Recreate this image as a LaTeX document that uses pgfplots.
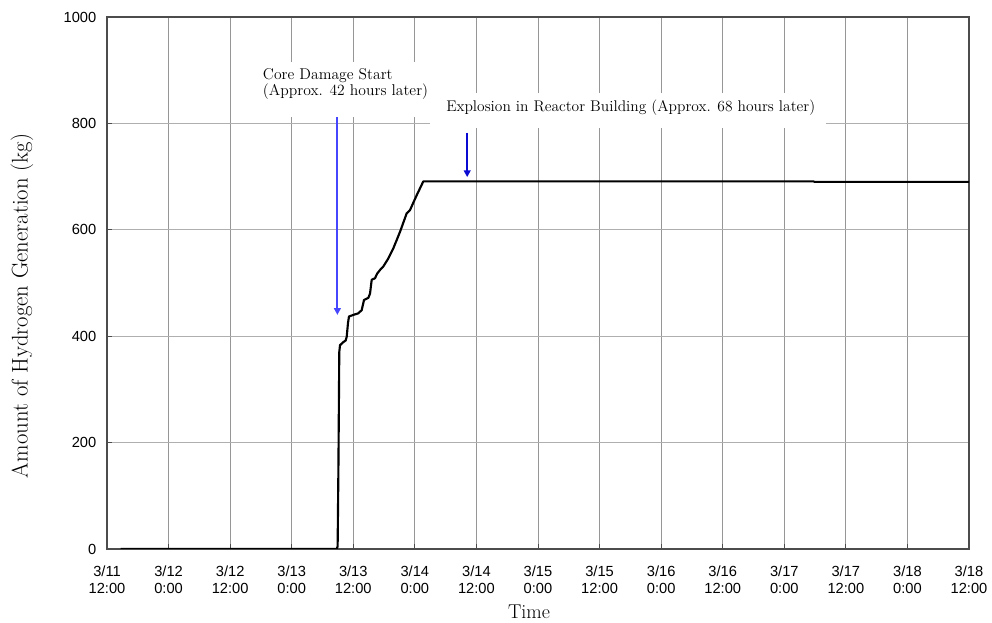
\documentclass[border=0pt]{standalone}
\usepackage{pgfplots}
\pgfplotsset{compat=1.18}
\usepackage{fontspec}
\setsansfont{Liberation Sans}
\usetikzlibrary{arrows.meta}
\definecolor{gridx}{RGB}{150,150,150}
\definecolor{gridy}{RGB}{175,175,175}
\definecolor{arrA}{RGB}{70,70,255}
\definecolor{arrB}{RGB}{10,10,210}
\begin{document}
\begin{tikzpicture}
\path[use as bounding box] (-80.25pt,-55.5pt) rectangle (663.75pt,411.75pt);
\begin{axis}[
  scale only axis, width=646.5pt, height=399pt,
  at={(0,0)}, anchor=south west,
  xmin=0, xmax=168, ymin=0, ymax=1000,
  xtick={0,12,...,168}, ytick={0,200,...,1000},
  xticklabels={{3/11\\12:00},{3/12\\0:00},{3/12\\12:00},{3/13\\0:00},{3/13\\12:00},{3/14\\0:00},{3/14\\12:00},{3/15\\0:00},{3/15\\12:00},{3/16\\0:00},{3/16\\12:00},{3/17\\0:00},{3/17\\12:00},{3/18\\0:00},{3/18\\12:00}},
  xticklabel style={font=\sffamily\fontsize{11}{12.5}\selectfont, align=center, yshift=-9pt},
  yticklabel style={font=\sffamily\fontsize{11}{13}\selectfont, xshift=-4.5pt},
  /pgf/number format/assume math mode=true,
  /pgf/number format/1000 sep={},
  xmajorgrids, ymajorgrids,
  x grid style={gridx, line width=0.75pt},
  y grid style={gridy, line width=0.75pt},
  axis line style={black!70, line width=0.9pt},
  tick align=inside, major tick length=4pt,
  tick style={black!70, line width=0.75pt},
  xtick pos=bottom, ytick pos=left,
  xlabel={Time},
  ylabel={Amount of Hydrogen Generation (kg)},
  xlabel style={font=\fontsize{15}{16}\selectfont, at={(axis description cs:0.4896,-0.131)}, anchor=base, inner sep=0pt},
  ylabel style={font=\fontsize{17}{18}\selectfont, at={(axis description cs:-0.0986,0.4568)}, anchor=center, rotate=0, inner sep=0pt},
]
\addplot[black, line width=1.6pt, line join=round] coordinates {
(2.67,0) (44.77,0) (44.95,5) (45.1,150) (45.27,370) (45.41,383) (45.94,388)
(46.52,392) (46.72,399) (46.97,425) (47.16,437) (48.0,440) (48.98,443)
(49.64,449) (50.09,468) (50.93,472) (51.26,480) (51.59,506) (52.23,509)
(52.68,518) (53.34,526) (53.85,531) (54.82,546) (55.8,565) (57.1,596)
(58.41,631) (59.05,637) (60.36,665) (61.65,691) (137.8,691) (137.8,690) (168,690)
};
\fill[white] (axis cs:27.48,812) rectangle (axis cs:62.95,915.4);
\fill[white] (axis cs:62.95,791.4) rectangle (axis cs:140.13,857);
\node[anchor=base west, inner sep=0pt, font=\fontsize{11.7}{13}\selectfont] at (axis cs:30.35,882.9) {Core Damage Start};
\node[anchor=base west, inner sep=0pt, font=\fontsize{11.7}{13}\selectfont] at (axis cs:30.35,851.5) {(Approx. 42 hours later)};
\node[anchor=base west, inner sep=0pt, font=\fontsize{11.6}{13}\selectfont] at (axis cs:66.07,822) {Explosion in Reactor Building (Approx. 68 hours later)};
\draw[draw=arrA, fill=arrA, line width=1.4pt, -{Triangle[length=5pt,width=5pt]}] (axis cs:44.9,812) -- (axis cs:44.9,440);
\draw[draw=arrB, fill=arrB, line width=1.3pt, -{Triangle[length=5pt,width=5pt]}] (axis cs:70.2,782) -- (axis cs:70.2,699);
\end{axis}
\end{tikzpicture}
\end{document}
